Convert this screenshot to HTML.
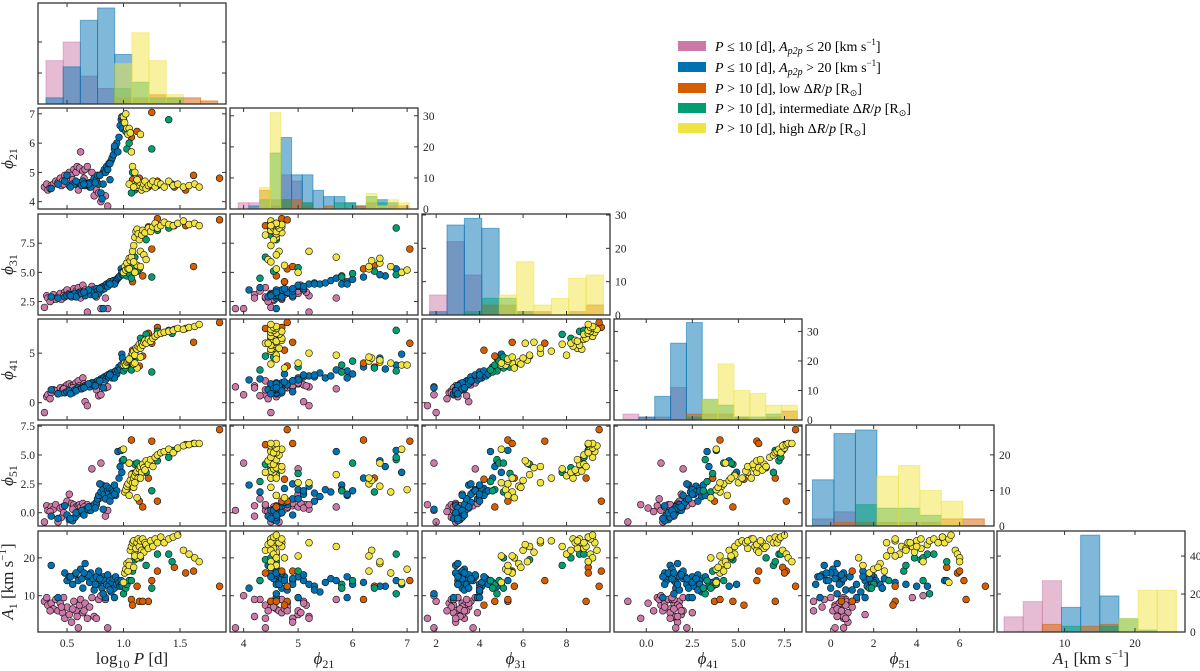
<!DOCTYPE html>
<html><head><meta charset="utf-8"><style>
html,body{margin:0;padding:0;background:#fff;}
svg{display:block;font-family:"Liberation Serif",serif;}
</style></head><body>
<svg id="fig" width="1200" height="671" viewBox="0 0 1200 671" xmlns="http://www.w3.org/2000/svg">
<g id="legend" font-size="14">
 <g><rect x="678" y="41" width="28" height="10" fill="#CC79A7"/><text x="715" y="51"><tspan font-style="italic">P</tspan> ≤ 10 [d],  <tspan font-style="italic">A</tspan><tspan font-style="italic" font-size="10" dy="3">p2p</tspan><tspan dy="-3"> ≤ 20 [km s</tspan><tspan font-size="9" dy="-6">−1</tspan><tspan dy="6">]</tspan></text></g>
 <g><rect x="678" y="62" width="28" height="10" fill="#0072B2"/><text x="715" y="72"><tspan font-style="italic">P</tspan> ≤ 10 [d],  <tspan font-style="italic">A</tspan><tspan font-style="italic" font-size="10" dy="3">p2p</tspan><tspan dy="-3"> &gt; 20 [km s</tspan><tspan font-size="9" dy="-6">−1</tspan><tspan dy="6">]</tspan></text></g>
 <g><rect x="678" y="83" width="28" height="10" fill="#D55E00"/><text x="715" y="93"><tspan font-style="italic">P</tspan> &gt; 10 [d],  low Δ<tspan font-style="italic">R</tspan>/<tspan font-style="italic">p</tspan> [R<tspan font-size="9" dy="3">⊙</tspan><tspan dy="-3">]</tspan></text></g>
 <g><rect x="678" y="103" width="28" height="10" fill="#009E73"/><text x="715" y="113"><tspan font-style="italic">P</tspan> &gt; 10 [d],  intermediate Δ<tspan font-style="italic">R</tspan>/<tspan font-style="italic">p</tspan> [R<tspan font-size="9" dy="3">⊙</tspan><tspan dy="-3">]</tspan></text></g>
 <g><rect x="678" y="123" width="28" height="10" fill="#F0E442"/><text x="715" y="133"><tspan font-style="italic">P</tspan> &gt; 10 [d],  high Δ<tspan font-style="italic">R</tspan>/<tspan font-style="italic">p</tspan> [R<tspan font-size="9" dy="3">⊙</tspan><tspan dy="-3">]</tspan></text></g>
</g>
</svg>
<script>
// ---- star data (per group, per variable) ----
const pinkLogP=[0.30,0.32,0.33,0.36,0.38,0.40,0.42,0.44,0.46,0.48,0.50,0.52,0.54,0.56,0.58,0.59,0.60,0.61,0.62,0.64,0.66,0.68,0.70,0.72,0.74,0.76,0.78,0.80,0.84,0.86,0.45,0.35,0.55,0.65,0.47];
const pinkF21=[4.5,4.6,4.4,4.55,4.6,4.7,4.65,4.8,4.7,4.9,4.8,5.0,4.9,5.1,5.0,5.2,4.4,5.15,5.7,5.05,5.1,5.2,4.5,5.0,4.2,4.4,4.3,4.0,4.2,3.85,4.55,4.45,4.75,4.8,4.6];
const pinkF31=[2.0,3.0,2.8,2.6,3.1,2.7,2.9,3.2,2.8,3.3,3.5,3.2,2.9,3.6,3.4,3.0,3.7,3.3,2.8,3.9,3.5,1.6,3.2,3.8,3.1,2.9,3.4,1.9,2.8,1.9,2.7,2.5,3.1,3.3,3.0];
const pinkF41=[-1.0,0.6,0.8,1.0,1.3,1.2,0.9,1.5,1.3,1.6,1.8,1.9,1.7,1.8,2.0,1.6,2.2,1.7,1.4,2.5,0.1,-0.3,1.8,2.0,1.7,1.3,0.7,0.8,1.5,1.6,1.0,0.4,1.5,1.9,1.4];
const pinkF51=[-0.8,0.6,0.2,0.5,0.3,0.7,-0.8,0.4,0.5,0.6,1.0,1.6,0.8,0.7,0.5,0.3,0.6,0.7,0.5,0.8,0.4,0.7,0.2,3.8,0.6,0.7,1.2,4.3,-0.3,0.2,-0.4,0.1,0.3,0.5,0.0];
const pinkA1=[8.5,9.5,7.5,8,6.5,9,6,8,5.5,4,7,5,3,8.5,6,4.5,1.5,7.5,9,5.5,8,4,7,9.5,4.5,4,9,10,9,1.5,7,6,6.5,6,9.5];

const blueLogP=[0.36,0.42,0.48,0.50,0.52,0.55,0.57,0.60,0.62,0.64,0.66,0.68,0.70,0.71,0.73,0.74,0.76,0.77,0.78,0.80,0.81,0.82,0.83,0.84,0.85,0.86,0.87,0.88,0.89,0.90,0.91,0.92,0.93,0.94,0.95,0.96,0.97,0.98,0.985,0.99,0.75,0.82,0.58,0.63,0.69,0.79,0.92,0.88,0.65,0.53];
const blueF21=[4.45,4.6,4.7,4.9,4.55,4.6,4.6,4.65,4.6,4.7,4.55,4.6,4.65,4.5,4.7,4.8,4.75,4.9,4.6,4.3,4.1,5.0,5.1,5.0,5.2,5.1,5.3,4.75,5.4,5.5,5.6,5.8,5.9,6.0,5.7,6.2,6.6,6.8,6.9,6.5,4.65,4.6,4.7,4.55,4.6,4.9,5.9,5.3,4.6,4.5];
const blueF31=[2.9,2.8,2.9,3.0,3.1,3.0,3.2,3.1,3.3,3.2,3.0,3.4,3.3,3.1,3.5,3.3,3.6,3.4,3.2,3.7,3.5,3.8,3.6,3.9,4.0,3.8,4.1,4.2,4.0,4.1,4.3,4.0,4.2,4.4,4.5,4.6,4.7,5.3,5.0,4.8,3.0,1.9,2.9,3.2,3.5,3.6,4.0,4.0,3.3,3.0];
const blueF41=[1.3,0.9,1.0,1.1,1.2,1.0,1.3,1.5,1.4,1.6,1.7,1.8,1.6,1.9,2.0,1.8,2.1,2.2,2.0,2.4,2.3,2.5,2.6,2.3,2.7,2.8,2.6,2.9,3.0,2.5,2.7,3.1,3.2,2.9,3.3,3.6,3.4,3.8,4.9,4.5,1.7,1.5,1.2,1.4,1.9,2.2,2.5,2.8,1.5,0.9];
const blueF51=[-0.3,-0.5,0.6,-0.2,-0.6,-0.7,-0.4,-0.1,0.1,0.0,0.3,0.3,0.5,0.2,0.6,0.7,0.9,1.2,1.5,1.8,2.4,2.0,1.6,1.2,2.3,1.9,1.7,2.1,1.4,2.0,1.8,2.4,1.5,1.9,5.3,3.0,4.0,5.4,3.5,4.5,0.4,0.3,0.0,0.2,0.5,2.5,1.6,1.0,-0.2,-0.5];
const blueA1=[18,9.5,16,14,15,13,15.5,14,17,12,18.5,15,13.5,16,14.5,11.5,15,13,16.5,14,12,15,14,9.5,13,15.5,12.5,14,11,13.5,14.5,12,15,13,14,13.5,12.5,14,13,12.5,13,10.5,16,14.5,15.5,14.5,9.5,11.5,16,15];

const orangeLogP=[1.12,1.14,1.07,1.25,1.30,1.45,1.55,1.62,1.85,1.22,1.08,1.17];
const orangeF21=[6.4,4.8,6.2,7.05,4.7,4.5,4.4,4.9,4.8,4.5,4.75,4.6];
const orangeF31=[5.6,5.3,5.3,7.0,9.6,9.0,9.0,5.5,9.5,8.9,4.2,4.7];
const orangeF41=[3.6,3.7,4.0,6.0,7.6,7.4,7.5,6.1,8.1,7.0,5.3,4.7];
const orangeF51=[3.0,1.0,6.3,6.2,1.0,5.4,5.9,6.0,7.2,3.0,2.9,0.5];
const orangeA1=[12.5,8.5,9,14,16.5,17.5,16,16.5,12.5,8.5,7.5,8.5];

const greenLogP=[1.00,1.02,1.03,1.05,1.08,1.10,1.12,1.15,1.20,1.25,1.30,1.43,1.40,1.07];
const greenF21=[6.8,6.4,5.8,6.0,5.0,4.4,4.55,4.5,4.6,5.8,4.55,4.6,6.8,4.3];
const greenF31=[4.8,5.1,4.7,4.9,5.4,6.3,5.1,8.2,7.8,4.6,8.6,9.0,8.8,4.5];
const greenF41=[3.2,3.5,3.8,4.2,3.6,4.7,4.6,6.5,6.9,3.1,7.2,7.0,7.3,3.3];
const greenF51=[4.6,1.8,2.0,4.3,3.4,4.2,4.3,3.9,3.5,1.9,4.5,5.4,4.8,2.7];
const greenA1=[10.5,12,13,14,16.5,19.5,20,20,18,12,21,19,21,14];

const yellowLogP=[1.00,1.01,1.02,1.03,1.04,1.05,1.06,1.07,1.08,1.09,1.10,1.11,1.12,1.13,1.14,1.15,1.16,1.17,1.18,1.19,1.20,1.22,1.24,1.26,1.28,1.30,1.33,1.36,1.40,1.44,1.48,1.53,1.58,1.63,1.67,1.12,1.05,1.09,1.10,1.15];
const yellowF21=[6.9,6.7,7.0,6.5,6.3,6.5,6.35,5.7,5.2,4.5,4.6,4.55,4.5,4.6,4.55,4.65,4.4,4.5,4.6,4.7,4.45,4.55,4.6,4.7,4.5,4.65,4.6,4.5,4.7,4.55,4.6,4.5,4.55,4.6,4.5,4.75,4.6,4.5,5.0,6.3];
const yellowF31=[5.0,5.5,5.2,5.8,5.3,6.2,6.0,6.3,6.8,7.3,8.0,8.5,8.7,8.3,7.8,6.8,8.2,8.6,6.5,8.4,6.1,8.8,8.5,8.9,9.2,8.8,9.0,9.3,9.1,9.0,9.2,9.4,9.1,9.2,9.0,5.6,5.3,5.9,5.0,5.5];
const yellowF41=[3.8,4.0,3.8,4.1,4.2,4.3,4.5,4.8,5.0,5.2,4.8,5.5,5.4,5.7,5.9,5.5,6.0,5.8,6.1,6.3,6.0,6.4,6.2,6.5,6.7,6.9,7.0,7.1,7.2,7.3,7.5,7.4,7.6,7.7,7.9,3.5,4.4,3.9,4.0,4.6];
const yellowF51=[5.5,1.8,2.0,2.3,2.5,4.3,2.8,3.3,2.6,3.0,3.2,3.5,3.6,3.0,3.8,4.0,3.5,4.2,3.9,3.7,4.5,4.2,4.6,4.0,4.8,5.0,5.2,5.3,5.5,5.2,5.6,5.8,5.9,6.0,6.0,1.3,1.5,2.2,2.6,3.0];
const yellowA1=[13.5,16,17,18.5,16.5,19,22,23,24,24.5,21,22.5,24,25,23,24.5,22,25,21.5,24,23.5,22.5,24.5,23,25,24,25.5,24,25,25.5,26,22,21,20,19,20,18,17.5,20.5,20.5];

// ---- histogram counts (per variable, per group) ----
const histPPink=[14,20,9,5,0,0,0,0,0,0];
const histPBlue=[2,12,27,31,16,0,0,0,0,0];
const histPOrange=[0,0,0,0,2,2,3,2,2,1];
const histPGreen=[0,0,0,0,5,7,2,2,0,0];
const histPYellow=[0,0,0,0,13,23,14,3,0,0];
const histF21Pink=[2,2,0,0,11,9,2,0,0,0,0,0,0,0,0,0];
const histF21Blue=[0,1,0,1,23,11,11,6,4,4,2,1,0,3,2,0];
const histF21Orange=[0,0,6,3,3,3,1,0,1,0,0,1,2,0,1,1];
const histF21Green=[0,0,3,18,3,0,2,0,0,2,2,0,4,2,0,0];
const histF21Yellow=[0,0,7,31,0,0,0,0,0,0,0,0,5,1,3,2];
const histF31Pink=[6,22,12,0,0,0,0,0,0,0];
const histF31Blue=[1,27,29,26,0,0,0,0,0,0];
const histF31Orange=[0,0,0,3,3,1,1,0,1,3];
const histF31Green=[0,0,1,5,5,1,0,0,0,0];
const histF31Yellow=[0,0,0,0,6,16,3,5,11,12];
const histF41Pink=[2,1,1,11,0,0,0,0,0,0,0];
const histF41Blue=[0,1,8,26,33,0,0,0,0,0,0];
const histF41Orange=[0,0,0,0,2,2,2,1,0,1,3];
const histF41Green=[0,0,0,0,1,7,5,1,1,2,0];
const histF41Yellow=[0,0,0,0,0,7,19,10,9,5,5];
const histF51Pink=[2,4,0,0,0,0,0,0];
const histF51Blue=[13,26,27,0,0,0,0,0];
const histF51Orange=[0,1,1,1,1,1,2,2];
const histF51Green=[0,0,6,5,5,3,0,0];
const histF51Yellow=[0,0,0,14,17,10,7,0];
const histA1Pink=[8,16,27,0,0,0,0,0,0];
const histA1Blue=[0,0,0,13,51,19,0,0,0];
const histA1Orange=[0,0,4,0,3,4,0,0,0];
const histA1Green=[0,0,0,3,0,3,7,1,0];
const histA1Yellow=[0,0,0,0,0,0,7,22,22];

// bin definitions (start, width) per variable
const binStarts=[0.314,3.90,1.70,-1.26,-0.85,1.4];
const binWidths=[0.152,0.196,0.8,0.86,1.0,2.72];

// ticks
const xTickVals=[[0.5,1,1.5],[4,5,6,7],[2,4,6,8],[0,2.5,5,7.5],[0,2,4,6],[10,20]];
const xTickLabels=[["0.5","1.0","1.5"],["4","5","6","7"],["2","4","6","8"],["0.0","2.5","5.0","7.5"],["0","2","4","6"],["10","20"]];
const yTickVals=[[],[4,5,6,7],[2.5,5,7.5],[0,5],[0,2.5,5,7.5],[10,20]];
const yTickLabels=[[],["4","5","6","7"],["2.5","5.0","7.5"],["0","5"],["0.0","2.5","5.0","7.5"],["10","20"]];
const histTickVals=[[10,20],[0,10,20,30],[0,10,20,30],[0,10,20,30],[0,10,20],[0,20,40]];

const ranges=[[0.243,1.907],[3.75,7.2],[1.35,10],[-1.75,8.45],[-1.15,7.6],[0.4,27.1]];
const histMax=[32.6,32.5,30.3,34.2,28.4,53.2];
const colLeft=[38,230,422,614,806,997], W=188;
const rowTop=[3,108,214,319,425,531], H=101;

const NS="http://www.w3.org/2000/svg";
const svg=document.getElementById('fig');
function mk(tag,attrs,parent){const e=document.createElementNS(NS,tag);for(const k in attrs)e.setAttribute(k,attrs[k]);(parent||svg).appendChild(e);return e;}
function xs(v,c){const r=ranges[c];return colLeft[c]+(v-r[0])/(r[1]-r[0])*W;}
function ys(v,rw){const r=ranges[rw];return rowTop[rw]+H-(v-r[0])/(r[1]-r[0])*H;}
function hy(v,rw){return rowTop[rw]+H-v/histMax[rw]*H;}

const colors=["#CC79A7","#0072B2","#D55E00","#009E73","#F0E442"];
const gnames=["pink","blue","orange","green","yellow"];
const groupData=[
 [pinkLogP,pinkF21,pinkF31,pinkF41,pinkF51,pinkA1],
 [blueLogP,blueF21,blueF31,blueF41,blueF51,blueA1],
 [orangeLogP,orangeF21,orangeF31,orangeF41,orangeF51,orangeA1],
 [greenLogP,greenF21,greenF31,greenF41,greenF51,greenA1],
 [yellowLogP,yellowF21,yellowF31,yellowF41,yellowF51,yellowA1]];
const histData=[
 [histPPink,histPBlue,histPOrange,histPGreen,histPYellow],
 [histF21Pink,histF21Blue,histF21Orange,histF21Green,histF21Yellow],
 [histF31Pink,histF31Blue,histF31Orange,histF31Green,histF31Yellow],
 [histF41Pink,histF41Blue,histF41Orange,histF41Green,histF41Yellow],
 [histF51Pink,histF51Blue,histF51Orange,histF51Green,histF51Yellow],
 [histA1Pink,histA1Blue,histA1Orange,histA1Green,histA1Yellow]];
const varNames=["logp","phi21","phi31","phi41","phi51","a1"];

for(let r=0;r<6;r++){
 for(let c=0;c<=r;c++){
  const x0=colLeft[c], y0=rowTop[r];
  const g=mk('g',{});
  
  
  const cp='clip'+r+c;
  const cl=mk('clipPath',{id:cp},g); mk('rect',{x:x0,y:y0,width:W,height:H},cl);
  const plot=mk('g',{'clip-path':'url(#'+cp+')'},g);
  if(r===c){
   for(let k=0;k<5;k++){
    const counts=histData[c][k];
    for(let b=0;b<counts.length;b++){
     if(!counts[b])continue;
     const xa=xs(binStarts[c]+b*binWidths[c],c), xb=xs(binStarts[c]+(b+1)*binWidths[c],c);
     const yt=hy(counts[b],r);
     const rect=mk('rect',{x:xa,y:yt,width:xb-xa,height:y0+H-yt,fill:colors[k],'fill-opacity':0.5,stroke:colors[k],'stroke-opacity':0.5,'stroke-width':1},plot);
     
     
    }
   }
  } else {
   for(let k=0;k<5;k++){
    const X=groupData[k][c], Y=groupData[k][r];
    for(let i=0;i<X.length;i++){
     const p=mk('circle',{cx:xs(X[i],c),cy:ys(Y[i],r),r:3.4,fill:colors[k],stroke:'#111','stroke-width':0.6},plot);
     
     
    }
   }
  }
  mk('rect',{x:x0,y:y0,width:W,height:H,fill:'none',stroke:'#333','stroke-width':1.3},g);
  xTickVals[c].forEach((v,i)=>{
   const xx=xs(v,c);
   mk('line',{x1:xx,x2:xx,y1:y0+H,y2:y0+H-4,stroke:'#333'},g);
   mk('line',{x1:xx,x2:xx,y1:y0,y2:y0+4,stroke:'#333'},g);
   if(r===5){const t=mk('text',{x:xx,y:y0+H+15,'text-anchor':'middle','font-size':11.5,fill:'#222'},g);t.textContent=xTickLabels[c][i];}
  });
  if(r!==c){
   yTickVals[r].forEach((v,i)=>{
    const yy=ys(v,r);
    mk('line',{x1:x0,x2:x0+4,y1:yy,y2:yy,stroke:'#333'},g);
    mk('line',{x1:x0+W,x2:x0+W-4,y1:yy,y2:yy,stroke:'#333'},g);
    if(c===0){const t=mk('text',{x:x0-3,y:yy+4,'text-anchor':'end','font-size':11.5,fill:'#222'},g);t.textContent=yTickLabels[r][i];}
   });
  } else {
   histTickVals[r].forEach(v=>{
    const yy=hy(v,r);
    mk('line',{x1:x0,x2:x0+4,y1:yy,y2:yy,stroke:'#333'},g);
    mk('line',{x1:x0+W,x2:x0+W-4,y1:yy,y2:yy,stroke:'#333'},g);
    if(r>0){const t=mk('text',{x:x0+W+5,y:yy+4,'font-size':11.5,fill:'#222'},g);t.textContent=String(v);}
   });
  }
 }
}
function title(html,x,y,rot,name){
 const t=mk('text',{x:x,y:y,'text-anchor':'middle','font-size':17,fill:'#222'});
 if(rot)t.setAttribute('transform','rotate(-90 '+x+' '+y+')');
 t.innerHTML=html;
 
 
}
const phi=n=>'<tspan font-style="italic">ϕ</tspan><tspan font-size="12" dy="4">'+n+'</tspan>';
title(phi('21'),13,rowTop[1]+H/2,true,'y-axis-title-phi21');
title(phi('31'),13,rowTop[2]+H/2,true,'y-axis-title-phi31');
title(phi('41'),13,rowTop[3]+H/2,true,'y-axis-title-phi41');
title(phi('51'),13,rowTop[4]+H/2,true,'y-axis-title-phi51');
title('<tspan font-style="italic">A</tspan><tspan font-size="12" dy="4">1</tspan><tspan dy="-4"> [km s</tspan><tspan font-size="11" dy="-7">−1</tspan><tspan dy="7">]</tspan>',13,rowTop[5]+H/2,true,'y-axis-title-a1');
title('log<tspan font-size="12" dy="4">10</tspan><tspan dy="-4"> </tspan><tspan font-style="italic">P</tspan> [d]',colLeft[0]+W/2,664,false,'x-axis-title-logp');
title(phi('21'),colLeft[1]+W/2,664,false,'x-axis-title-phi21');
title(phi('31'),colLeft[2]+W/2,664,false,'x-axis-title-phi31');
title(phi('41'),colLeft[3]+W/2,664,false,'x-axis-title-phi41');
title(phi('51'),colLeft[4]+W/2,664,false,'x-axis-title-phi51');
title('<tspan font-style="italic">A</tspan><tspan font-size="12" dy="4">1</tspan><tspan dy="-4"> [km s</tspan><tspan font-size="11" dy="-7">−1</tspan><tspan dy="7">]</tspan>',colLeft[5]+W/2,664,false,'x-axis-title-a1');
svg.appendChild(document.getElementById('legend'));
</script>
</body></html>
